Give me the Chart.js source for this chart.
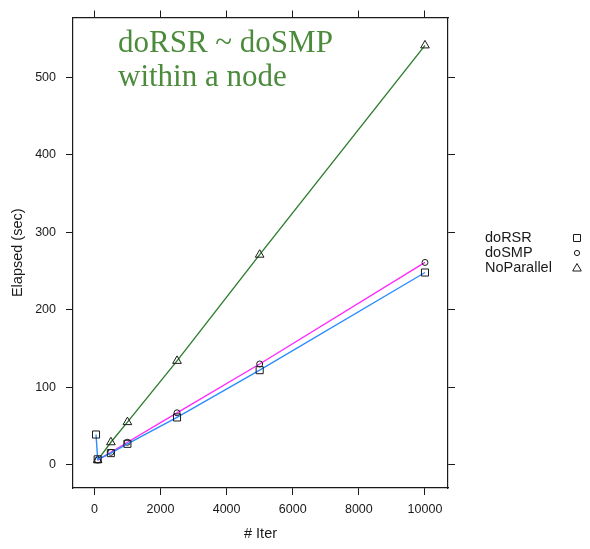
<!DOCTYPE html>
<html>
<head>
<meta charset="utf-8">
<script src="https://cdn.jsdelivr.net/npm/chart.js@4"></script>
<style>
  html, body { margin: 0; padding: 0; background: #ffffff; }
  #wrap { width: 590px; height: 549px; position: relative; }
</style>
</head>
<body>
<div id="wrap"><canvas id="c"></canvas></div>
<script>
// ---- data ----
const seriesNames = ["doRSR", "doSMP", "NoParallel"];
const iterRSR = [50, 100, 500, 1000, 2500, 5000, 10000];
const elapsedRSR = [39, 7, 15, 27, 61, 122, 248];
const iterSMP = [100, 500, 1000, 2500, 5000, 10000];
const elapsedSMP = [6, 16, 29, 67, 130, 261];
const iterNoPar = [100, 500, 1000, 2500, 5000, 10000];
const elapsedNoPar = [6, 29, 55, 134, 271, 541];
const xTickValues = [0, 2000, 4000, 6000, 8000, 10000];
const yTickValues = [0, 100, 200, 300, 400, 500];
const annotationLines = ["doRSR ~ doSMP", "within a node"];
const xTitle = "# Iter";
const yTitle = "Elapsed (sec)";

// ---- styling ----
const lineColors = ["#2a8cff", "#ff2aff", "#2f7f2f"];
const pointStyles = ["rect", "circle", "triangle"];
const pointRadii = [5, 3, 5];
const inkColor = "#1a1a1a";
const X_MIN = -646, X_MAX = 10696, Y_MIN = -30, Y_MAX = 577;

function pairs(xs, ys) { return xs.map((x, i) => ({ x: x, y: ys[i] })); }

const seriesData = [pairs(iterRSR, elapsedRSR), pairs(iterSMP, elapsedSMP), pairs(iterNoPar, elapsedNoPar)];

const datasets = seriesNames.map((name, i) => ({
  label: name,
  data: seriesData[i],
  showLine: true,
  borderColor: lineColors[i],
  borderWidth: 1.4,
  pointStyle: pointStyles[i],
  pointRadius: pointRadii[i],
  pointHoverRadius: pointRadii[i],
  pointBackgroundColor: "rgba(0,0,0,0)",
  pointBorderColor: inkColor,
  pointBorderWidth: 1,
  tension: 0,
  fill: false
}));

function setTicks(values) {
  return function (scale) { scale.ticks = values.map(v => ({ value: v })); };
}
const plainLabel = v => String(v);

const tickFont = { family: "'Liberation Sans', Arial, sans-serif", size: 12.5 };
const titleFont = { family: "'Liberation Sans', Arial, sans-serif", size: 14.5 };

const overlay = {
  id: "overlay",
  afterDraw(chart) {
    const ctx = chart.ctx;
    ctx.save();
    // annotation text
    ctx.fillStyle = "#4b8b3b";
    ctx.font = "31px 'Liberation Serif', 'Times New Roman', serif";
    ctx.textAlign = "left";
    ctx.textBaseline = "alphabetic";
    ctx.fillText(annotationLines[0], 118, 52);
    ctx.fillText(annotationLines[1], 118, 86);
    // legend
    const rowY = [238, 253, 268];
    ctx.font = "14.5px 'Liberation Sans', Arial, sans-serif";
    ctx.textBaseline = "middle";
    for (let i = 0; i < seriesNames.length; i++) {
      ctx.fillStyle = inkColor;
      ctx.fillText(seriesNames[i], 485, rowY[i]);
      ctx.strokeStyle = inkColor;
      ctx.lineWidth = 1;
      const sx = 577, sy = rowY[i];
      ctx.beginPath();
      if (pointStyles[i] === "rect") {
        ctx.rect(sx - 3.5, sy - 3.5, 7, 7);
      } else if (pointStyles[i] === "circle") {
        ctx.arc(sx, sy, 2.6, 0, Math.PI * 2);
      } else {
        ctx.moveTo(sx, sy - 4.5);
        ctx.lineTo(sx + 4.3, sy + 3);
        ctx.lineTo(sx - 4.3, sy + 3);
        ctx.closePath();
      }
      ctx.stroke();
    }
    ctx.restore();
  }
};

new Chart(document.getElementById("c"), {
  type: "scatter",
  data: { datasets: datasets },
  options: {
    responsive: true,
    maintainAspectRatio: false,
    animation: false,
    layout: { padding: 0, autoPadding: false },
    plugins: { legend: { display: false }, tooltip: { enabled: false } },
    scales: {
      x: {
        type: "linear", position: "bottom", min: X_MIN, max: X_MAX,
        afterBuildTicks: setTicks(xTickValues),
        afterFit: s => { s.height = 61; },
        grid: { drawOnChartArea: false, tickLength: 7, color: inkColor, tickWidth: 1 },
        border: { display: true, color: inkColor, width: 1.2 },
        ticks: { color: inkColor, font: tickFont, padding: 7, maxRotation: 0, autoSkip: false, callback: plainLabel },
        title: { display: true, text: xTitle, color: inkColor, font: titleFont, padding: { top: 0, bottom: 6 } }
      },
      x2: {
        type: "linear", position: "top", min: X_MIN, max: X_MAX,
        afterBuildTicks: setTicks(xTickValues),
        afterFit: s => { s.height = 16; },
        grid: { drawOnChartArea: false, tickLength: 7, color: inkColor, tickWidth: 1 },
        border: { display: true, color: inkColor, width: 1.2 },
        ticks: { display: false }
      },
      y: {
        type: "linear", position: "left", min: Y_MIN, max: Y_MAX,
        afterBuildTicks: setTicks(yTickValues),
        afterFit: s => { s.width = 73; },
        grid: { drawOnChartArea: false, tickLength: 7, color: inkColor, tickWidth: 1 },
        border: { display: true, color: inkColor, width: 1.2 },
        ticks: { color: inkColor, font: tickFont, padding: 10, autoSkip: false, callback: plainLabel },
        title: { display: true, text: yTitle, color: inkColor, font: titleFont, padding: { top: 9, bottom: 0 } }
      },
      y2: {
        type: "linear", position: "right", min: Y_MIN, max: Y_MAX,
        afterBuildTicks: setTicks(yTickValues),
        afterFit: s => { s.width = 142; },
        grid: { drawOnChartArea: false, tickLength: 7, color: inkColor, tickWidth: 1 },
        border: { display: true, color: inkColor, width: 1.2 },
        ticks: { display: false }
      }
    }
  },
  plugins: [overlay]
});
</script>
</body>
</html>
